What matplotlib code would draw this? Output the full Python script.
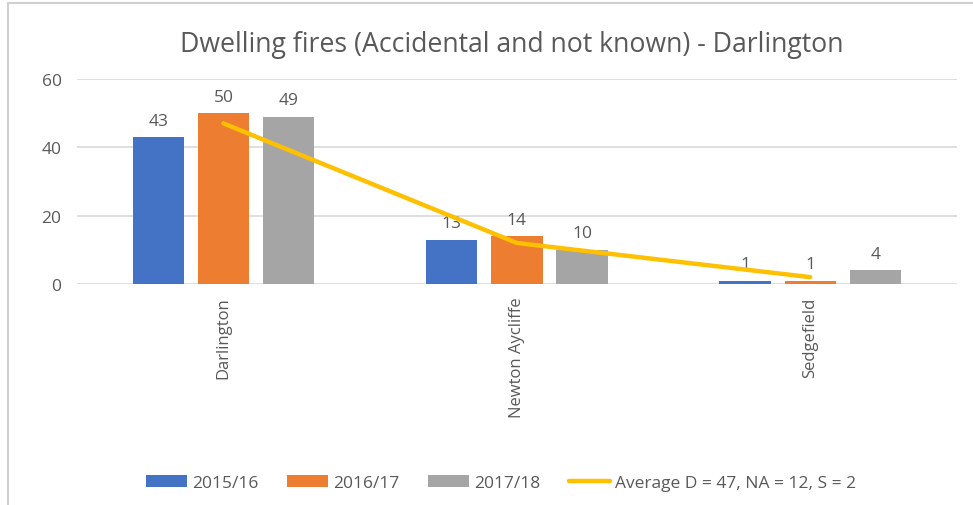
import numpy as np
import matplotlib.pyplot as plt
from matplotlib.patches import Rectangle

plt.rcParams['font.family'] = ['Open Sans', 'DejaVu Sans']

towns = ['Darlington', 'Newton Aycliffe', 'Sedgefield']
years = ['2015/16', '2016/17', '2017/18']
fires_2015 = [43, 13, 1]
fires_2016 = [50, 14, 1]
fires_2017 = [49, 10, 4]
average = [47, 12, 2]
average_label = 'Average D = 47, NA = 12, S = 2'

colors = ['#4472C4', '#ED7D31', '#A5A5A5']
text_grey = '#595959'

fig = plt.figure(figsize=(9.73, 5.06), dpi=100)
ax = fig.add_axes([0.079, 0.4368, 0.9045, 0.405])

x = np.arange(len(towns))
width = 0.175
step = 0.222
series = [fires_2015, fires_2016, fires_2017]
bar_handles = []
for i, (vals, col, yr) in enumerate(zip(series, colors, years)):
    bars = ax.bar(x + (i - 1) * step, vals, width, color=col, label=yr, zorder=2)
    bar_handles.append(bars)
    for b, v in zip(bars, vals):
        ax.annotate(str(v), (b.get_x() + b.get_width() / 2, v), xytext=(0, 6),
                    textcoords='offset points', ha='center', va='bottom',
                    fontsize=12.5, color=text_grey)

line, = ax.plot(x, average, color='#FFC000', lw=3.2, label=average_label, zorder=3,
                solid_capstyle='round')

ax.set_xlim(-0.5, 2.5)
ax.set_ylim(0, 60)
ax.set_yticks([0, 20, 40, 60])
ax.yaxis.grid(True, color='#D9D9D9', lw=1.2, zorder=0)
ax.set_axisbelow(True)
for s in ax.spines.values():
    s.set_visible(False)
ax.tick_params(axis='y', length=0, pad=11, labelsize=12.5, labelcolor=text_grey)
ax.set_xticks(x)
ax.set_xticklabels(towns, rotation=90, fontsize=12, color=text_grey)
ax.tick_params(axis='x', length=0, pad=9)

fig.text(0.526, 0.911, 'Dwelling fires (Accidental and not known) - Darlington',
         ha='center', va='center', fontsize=19.2, color=text_grey)

handles = bar_handles + [line]
labels = years + [average_label]
fig.legend(handles, labels, loc='center', bbox_to_anchor=(0.515, 0.043), ncol=4,
           frameon=False, fontsize=12.5, handlelength=2.4, handleheight=0.7,
           columnspacing=1.6, handletextpad=0.3, labelcolor=text_grey)

# light frame around the chart area
fig.patches.append(Rectangle((0.008, -0.05), 1.1, 1.042, transform=fig.transFigure,
                             fill=False, edgecolor='#D0D0D0', lw=1.5))

fig.savefig('out.png', dpi=100, facecolor='white')
